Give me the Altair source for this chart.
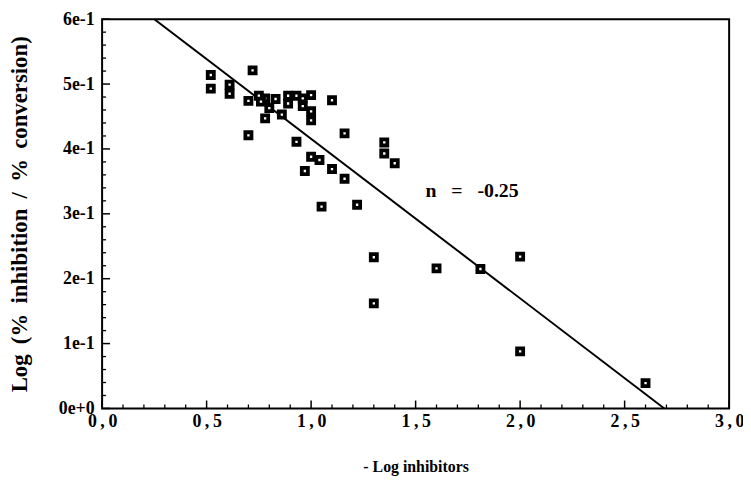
import altair as alt
import pandas as pd

# ---- data ----
pt_x = [0.52, 0.52, 0.72, 0.61, 0.61, 0.70, 0.75, 0.78, 0.76, 0.83, 0.80, 0.78, 0.86,
        0.89, 0.93, 0.96, 1.00, 0.89, 0.96, 1.00, 1.00, 0.70, 0.93, 1.10, 1.16, 1.00,
        1.04, 0.97, 1.10, 1.16, 1.35, 1.35, 1.40, 1.05, 1.22, 1.30, 1.30, 1.60, 1.81,
        2.00, 2.00, 2.60]
pt_y = [0.514, 0.493, 0.521, 0.499, 0.485, 0.474, 0.482, 0.478, 0.473, 0.477, 0.463,
        0.447, 0.453, 0.482, 0.482, 0.478, 0.483, 0.470, 0.466, 0.458, 0.444, 0.421,
        0.411, 0.475, 0.424, 0.388, 0.383, 0.366, 0.369, 0.354, 0.410, 0.393, 0.378,
        0.311, 0.314, 0.233, 0.162, 0.216, 0.215, 0.234, 0.088, 0.039]

fit_x = [0.25, 2.69]
fit_y = [0.60, 0.00]

NB = "\u00a0"
TS = "\u2009"
note_text = ["n" + NB * 3 + "=" + NB * 3 + "-0.25"]
note_x = [1.77]
note_y = [0.335]

x_ticks = [0.0, 0.5, 1.0, 1.5, 2.0, 2.5, 3.0]
x_tick_labels = ["0,0", "0,5", "1,0", "1,5", "2,0", "2,5", "3,0"]
x_minor = [0.1, 0.2, 0.3, 0.4, 0.6, 0.7, 0.8, 0.9, 1.1, 1.2, 1.3, 1.4, 1.6, 1.7, 1.8,
           1.9, 2.1, 2.2, 2.3, 2.4, 2.6, 2.7, 2.8, 2.9]
y_ticks = [0.0, 0.1, 0.2, 0.3, 0.4, 0.5, 0.6]
y_tick_labels = ["0e+0", "1e-1", "2e-1", "3e-1", "4e-1", "5e-1", "6e-1"]
y_minor = [0.02, 0.04, 0.06, 0.08, 0.12, 0.14, 0.16, 0.18, 0.22, 0.24, 0.26, 0.28,
           0.32, 0.34, 0.36, 0.38, 0.42, 0.44, 0.46, 0.48, 0.52, 0.54, 0.56, 0.58]

W, H = 633, 393
FONT = "Liberation Serif"


def js_array(labels, sep=""):
    return "[" + ",".join("'" + sep.join(list(l)) + "'" for l in labels) + "]"


xscale = alt.Scale(domain=[0, 3], nice=False, zero=False)
yscale = alt.Scale(domain=[0, 0.6], nice=False, zero=False)

x_axis = alt.Axis(values=x_ticks, grid=False, domain=False, ticks=False, tickSize=0,
                  labelExpr=js_array(x_tick_labels, TS) + "[round(datum.value*2)]",
                  labelFlush=False, labelOverlap=False,
                  labelFont=FONT, labelFontSize=18, labelFontWeight="bold",
                  labelColor="black", labelPadding=4,
                  titleFont=FONT, titleFontSize=16, titleFontWeight="bold",
                  titleColor="black", titlePadding=29)
y_axis = alt.Axis(values=y_ticks, grid=False, domain=False, ticks=False, tickSize=0,
                  labelExpr=js_array(y_tick_labels) + "[round(datum.value*10)]",
                  labelFlush=False, labelOverlap=False,
                  labelFont=FONT, labelFontSize=18, labelFontWeight="bold",
                  labelColor="black", labelPadding=8,
                  titleFont=FONT, titleFontSize=23, titleFontWeight="bold",
                  titleColor="black", titlePadding=27)

XT = "-" + NB + "Log" + NB + "inhibitors"
YT = (NB + TS).join(["Log", "(%", "inhibition", "/", "%", "conversion)"])


def X(field):
    return alt.X(f"{field}:Q", scale=xscale, axis=x_axis, title=XT)


def Y(field):
    return alt.Y(f"{field}:Q", scale=yscale, axis=y_axis, title=YT)


pts = pd.DataFrame({"x": pt_x, "y": pt_y})
fit = pd.DataFrame({"x": fit_x, "y": fit_y})
note = pd.DataFrame({"x": note_x, "y": note_y, "t": note_text})
xmaj = pd.DataFrame({"x": x_ticks})
xmin = pd.DataFrame({"x": x_minor})
ymaj = pd.DataFrame({"y": y_ticks})
ymin = pd.DataFrame({"y": y_minor})

points = alt.Chart(pts).mark_square(size=38, filled=False, fill="white", stroke="black",
                                    strokeWidth=3.8, opacity=1).encode(x=X("x"), y=Y("y"))
line = alt.Chart(fit).mark_line(color="black", strokeWidth=2).encode(x=X("x"), y=Y("y"))
text = alt.Chart(note).mark_text(font=FONT, fontSize=20, fontWeight="bold", color="black",
                                 align="center", baseline="middle").encode(
    x=X("x"), y=Y("y"), text="t:N")

xt_major = alt.Chart(xmaj).mark_rule(color="black", strokeWidth=1.5).encode(
    x=X("x"), y=alt.value(H), y2=alt.value(H - 8))
xt_minor = alt.Chart(xmin).mark_rule(color="black", strokeWidth=1.3).encode(
    x=X("x"), y=alt.value(H), y2=alt.value(H - 4))
yt_major = alt.Chart(ymaj).mark_rule(color="black", strokeWidth=1.5).encode(
    y=Y("y"), x=alt.value(0), x2=alt.value(8))
yt_minor = alt.Chart(ymin).mark_rule(color="black", strokeWidth=1.3).encode(
    y=Y("y"), x=alt.value(0), x2=alt.value(4))

chart = alt.layer(xt_major, xt_minor, yt_major, yt_minor, line, points, text).properties(
    width=W, height=H,
    autosize=alt.AutoSizeParams(type="none"),
    padding={"left": 95, "top": 9, "right": 14, "bottom": 76},
    background="white",
).configure_view(stroke="black", strokeWidth=2)

chart.save("out.html", embed_options={"renderer": "svg", "actions": False})
